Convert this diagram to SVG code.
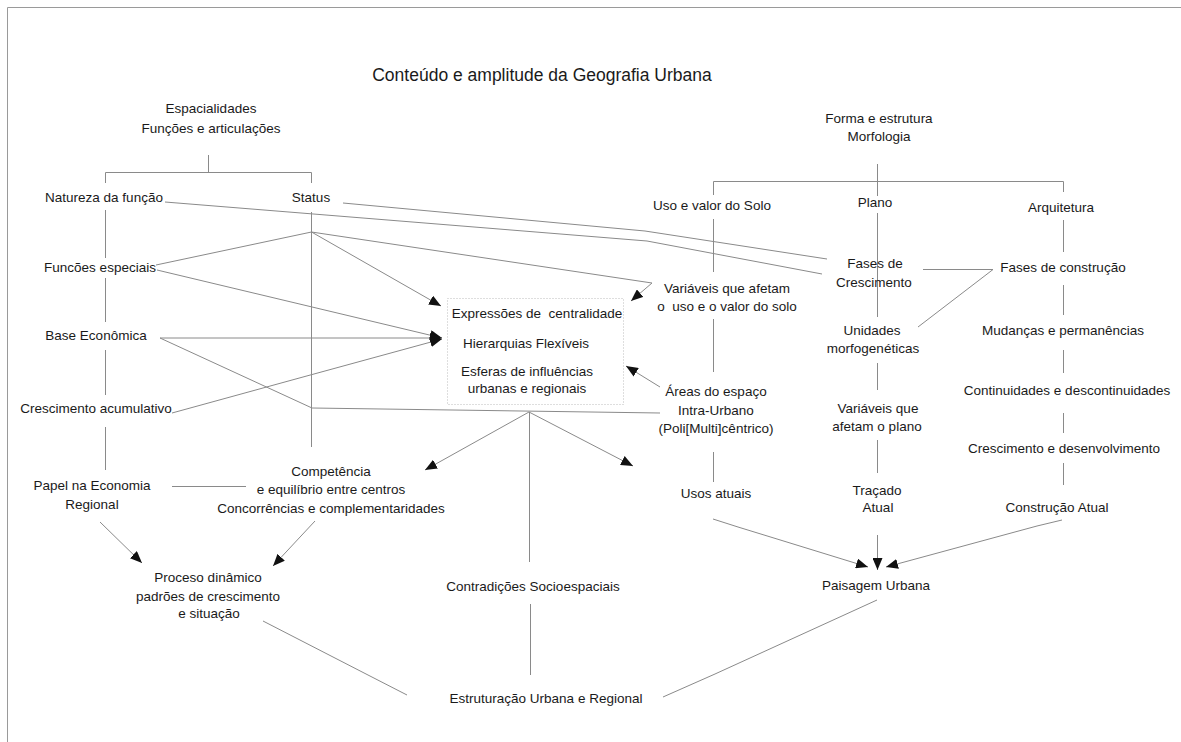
<svg xmlns="http://www.w3.org/2000/svg" width="1181" height="742" viewBox="0 0 1181 742">
<style>
  text { font-family: "Liberation Sans", Arial, sans-serif; font-size: 13.5px; fill: #1a1a1a; text-anchor: middle; }
  .title { font-size: 17.5px; }
  .ln { fill: none; stroke: #8a8a8a; stroke-width: 1; }
  .ar { fill: none; stroke: #8a8a8a; stroke-width: 1; marker-end: url(#ah); }
  .frame { fill: none; stroke: #9a9a9a; stroke-width: 1; }
  .box { fill: none; stroke: #bdbdbd; stroke-width: 1; stroke-dasharray: 1 2; }
</style>
<defs>
  <marker id="ah" markerUnits="userSpaceOnUse" markerWidth="12" markerHeight="10" refX="12" refY="5" orient="auto">
    <path d="M0,0 L12,5 L0,10 z" fill="#111"/>
  </marker>
</defs>
<rect width="1181" height="742" fill="#fff"/>
<path class="frame" d="M7.5,742 V7.5 H1181"/>

<g id="connectors">
  <!-- Espacialidades tree -->
  <path class="ln" d="M208.5,155 V172.5 M105.5,183 V172.5 H311.5 V183"/>
  <!-- left column -->
  <path class="ln" d="M105.5,210 V258 M105.5,278 V322 M105.5,350 V395 M105.5,427 V470"/>
  <!-- Status vertical -->
  <path class="ln" d="M311.5,212 V447"/>
  <!-- Natureza / Status to Fases de Crescimento -->
  <polyline class="ln" points="165,202 647,241 822,274"/>
  <polyline class="ln" points="343,203 645,231 827,259"/>
  <!-- Status convergence -->
  <line class="ln" x1="311.5" y1="232" x2="156" y2="265"/>
  <line class="ar" x1="311.5" y1="232" x2="441" y2="306"/>
  <line class="ln" x1="311.5" y1="232" x2="652" y2="283"/>
  <line class="ar" x1="652" y1="283" x2="631" y2="301"/>
  <!-- into box from left -->
  <line class="ar" x1="157" y1="270" x2="442" y2="338"/>
  <line class="ar" x1="160" y1="338" x2="442" y2="338"/>
  <polyline class="ar" points="172,413 303,377 442,339"/>
  <!-- Base Economica to Areas -->
  <polyline class="ln" points="160,338 312,408 660,413"/>
  <!-- Areas to box -->
  <line class="ar" x1="660" y1="387" x2="626" y2="366"/>
  <!-- box bottom convergence -->
  <line class="ar" x1="529" y1="412" x2="425" y2="470"/>
  <line class="ar" x1="529" y1="412" x2="633" y2="466"/>
  <line class="ln" x1="529.5" y1="412" x2="529.5" y2="562"/>
  <line class="ln" x1="530.5" y1="604" x2="530.5" y2="675"/>
  <!-- Papel / Competencia / Proceso -->
  <line class="ln" x1="172" y1="486.5" x2="246" y2="486.5"/>
  <line class="ar" x1="100" y1="522" x2="142" y2="563"/>
  <line class="ar" x1="315" y1="521" x2="273" y2="566"/>
  <polyline class="ln" points="263,621 368,675 407,695"/>
  <polyline class="ln" points="877,600 715,674 663,697"/>
  <!-- Morfologia tree -->
  <path class="ln" d="M877.5,164 V196 M713.5,195 V181.5 H1063.5 V192 M877.5,213 V317"/>
  <!-- Uso e valor do Solo column -->
  <path class="ln" d="M713.5,219 V272 M713.5,319 V372 M713.5,452 V482"/>
  <!-- Fases connections -->
  <path class="ln" d="M923,269.5 H993 L918,327"/>
  <!-- Arquitetura column -->
  <path class="ln" d="M1063.5,220 V252 M1063.5,285 V315 M1063.5,350 V373 M1063.5,413 V433 M1063.5,463 V485"/>
  <!-- Plano column -->
  <path class="ln" d="M877.5,363 V390 M877.5,440 V473"/>
  <line class="ar" x1="877.5" y1="535" x2="877.5" y2="570"/>
  <polyline class="ar" points="713,519 738,527 868,567"/>
  <polyline class="ar" points="1062,520 1037,526 886,567"/>
</g>

<g id="title"><text class="title" x="542" y="81">Conteúdo e amplitude da Geografia Urbana</text></g>

<g id="espacialidades"><text x="211" y="113">Espacialidades</text><text x="211" y="133">Funções e articulações</text></g>
<g id="natureza"><text x="104" y="202">Natureza da função</text></g>
<g id="status"><text x="311" y="202">Status</text></g>
<g id="funcoes"><text x="100" y="272">Funcões especiais</text></g>
<g id="base"><text x="96" y="340">Base Econômica</text></g>
<g id="crescimento-acum"><text x="96" y="413">Crescimento acumulativo</text></g>
<g id="papel"><text x="92" y="490">Papel na Economia</text><text x="92" y="509">Regional</text></g>
<g id="competencia"><text x="331" y="476">Competência</text><text x="331" y="494">e equilíbrio entre centros</text><text x="331" y="513">Concorrências e complementaridades</text></g>
<g id="proceso"><text x="208" y="582">Proceso dinâmico</text><text x="208" y="601">padrões de crescimento</text><text x="209" y="618">e situação</text></g>

<g id="centralidade">
  <rect class="box" x="447.5" y="298.5" width="176" height="106"/>
  <text x="537" y="318" xml:space="preserve">Expressões de  centralidade</text>
  <text x="526" y="348">Hierarquias Flexíveis</text>
  <text x="527" y="376">Esferas de influências</text>
  <text x="527" y="393">urbanas e regionais</text>
</g>

<g id="variaveis-solo"><text x="727" y="293">Variáveis que afetam</text><text x="727" y="311" xml:space="preserve">o  uso e o valor do solo</text></g>
<g id="areas"><text x="716" y="396">Áreas do espaço</text><text x="716" y="415">Intra-Urbano</text><text x="716" y="433">(Poli[Multi]cêntrico)</text></g>
<g id="usos"><text x="716" y="498">Usos atuais</text></g>
<g id="contradicoes"><text x="533" y="591">Contradições Socioespaciais</text></g>
<g id="estruturacao"><text x="546" y="703">Estruturação Urbana e Regional</text></g>

<g id="morfologia"><text x="879" y="123">Forma e estrutura</text><text x="879" y="141">Morfologia</text></g>
<g id="uso-solo"><text x="712" y="210">Uso e valor do Solo</text></g>
<g id="plano"><text x="875" y="207">Plano</text></g>
<g id="arquitetura"><text x="1061" y="212">Arquitetura</text></g>
<g id="fases-cresc"><text x="875" y="268">Fases de</text><text x="874" y="287">Crescimento</text></g>
<g id="fases-constr"><text x="1063" y="272">Fases de construção</text></g>
<g id="unidades"><text x="872" y="335">Unidades</text><text x="873" y="353">morfogenéticas</text></g>
<g id="mudancas"><text x="1063" y="335">Mudanças e permanências</text></g>
<g id="variaveis-plano"><text x="878" y="413">Variáveis que</text><text x="877" y="431">afetam o plano</text></g>
<g id="continuidades"><text x="1067" y="395">Continuidades e descontinuidades</text></g>
<g id="tracado"><text x="877" y="495">Traçado</text><text x="878" y="512">Atual</text></g>
<g id="cresc-desenv"><text x="1064" y="453">Crescimento e desenvolvimento</text></g>
<g id="construcao"><text x="1057" y="512">Construção Atual</text></g>
<g id="paisagem"><text x="876" y="590">Paisagem Urbana</text></g>
</svg>
